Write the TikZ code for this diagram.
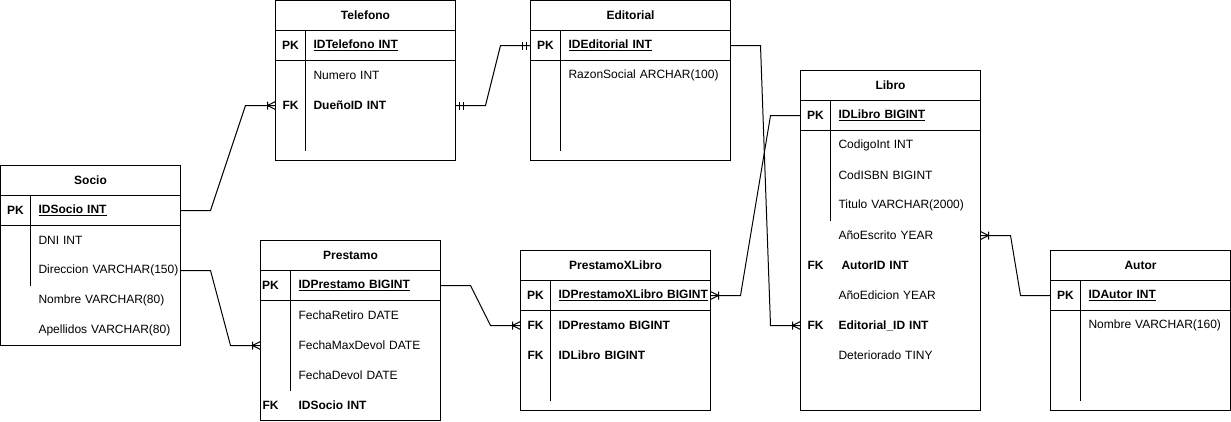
\documentclass[tikz,border=0pt]{standalone}
\usepackage{fontspec}
\setmainfont{Liberation Sans}
\usetikzlibrary{positioning, calc}
\tikzstyle{entity} = [rectangle, draw=black, line width=1pt, inner sep=0pt, outer sep=0pt]
\tikzstyle{title} = [rectangle, draw=black, line width=1pt, minimum height=30pt, inner sep=0pt, outer sep=0pt, font=\fontsize{12}{14}\selectfont\bfseries]
\tikzstyle{attr} = [rectangle, text width=200pt, minimum height=30pt, inner sep=0pt, outer sep=0pt, align=left, font=\fontsize{12}{14}\selectfont]
\tikzstyle{key} = [rectangle, minimum width=30pt, minimum height=30pt, inner sep=0pt, outer sep=0pt, font=\fontsize{12}{14}\selectfont\bfseries]
\tikzstyle{rel} = [line width=1pt]
\tikzset{
  manyend/.pic={\draw[rel] (0,-4) -- (8,0) -- (0,4) (8,-4) -- (8,4);},
  oneend/.pic={\draw[rel] (4,-4) -- (4,4) (8,-4) -- (8,4);}
}
\begin{document}
\begin{tikzpicture}[x=1pt, y=-1pt]
    \useasboundingbox (-0.5,-0.5) rectangle (1230.5,420.5);

    % Socio
    \node (socio) [entity, minimum width=180pt, minimum height=180pt] at (90,255) {};
    \node (socioT) [title, minimum width=180pt, below=0pt of socio.north] {Socio};
    \node (socio1) [attr, below right=0pt and 38pt of socioT.south west] {\textbf{\underline{IDSocio INT}}};
    \node (socio2) [attr, below=0pt of socio1] {DNI INT};
    \node (socio3) [attr, below=0pt of socio2] {Direccion VARCHAR(150)};
    \node (socio4) [attr, below=0pt of socio3] {Nombre VARCHAR(80)};
    \node (socio5) [attr, below=0pt of socio4] {Apellidos VARCHAR(80)};
    \node (socioK1) [key, left=8pt of socio1] {PK};
    \draw[rel] (socio.west |- socio1.south) -- (socio.east |- socio1.south);
    \draw[rel] (socioT.south west) ++(30,0) -- ++(0,90);

    % Telefono
    \node (telefono) [entity, minimum width=180pt, minimum height=160pt] at (365,80) {};
    \node (telefonoT) [title, minimum width=180pt, below=0pt of telefono.north] {Telefono};
    \node (tel1) [attr, below right=0pt and 38pt of telefonoT.south west] {\textbf{\underline{IDTelefono INT}}};
    \node (tel2) [attr, below=0pt of tel1] {Numero INT};
    \node (tel3) [attr, below=0pt of tel2] {\textbf{DueñoID INT}};
    \node (telK1) [key, left=8pt of tel1] {PK};
    \node (telK3) [key, left=8pt of tel3] {FK};
    \draw[rel] (telefono.west |- tel1.south) -- (telefono.east |- tel1.south);
    \draw[rel] (telefonoT.south west) ++(30,0) -- ++(0,120);

    % Editorial
    \node (editorial) [entity, minimum width=200pt, minimum height=160pt] at (630,80) {};
    \node (editorialT) [title, minimum width=200pt, below=0pt of editorial.north] {Editorial};
    \node (edit1) [attr, below right=0pt and 38pt of editorialT.south west] {\textbf{\underline{IDEditorial INT}}};
    \node (edit2) [attr, below=0pt of edit1] {RazonSocial ARCHAR(100)};
    \node (editK1) [key, left=8pt of edit1] {PK};
    \draw[rel] (editorial.west |- edit1.south) -- (editorial.east |- edit1.south);
    \draw[rel] (editorialT.south west) ++(30,0) -- ++(0,120);

    % Prestamo
    \node (prestamo) [entity, minimum width=180pt, minimum height=180pt] at (350,330) {};
    \node (prestamoT) [title, minimum width=180pt, below=0pt of prestamo.north] {Prestamo};
    \node (pres1) [attr, below right=0pt and 38pt of prestamoT.south west] {\textbf{\underline{IDPrestamo BIGINT}}};
    \node (pres2) [attr, below=0pt of pres1] {FechaRetiro DATE};
    \node (pres3) [attr, below=0pt of pres2] {FechaMaxDevol DATE};
    \node (pres4) [attr, below=0pt of pres3] {FechaDevol DATE};
    \node (pres5) [attr, below=0pt of pres4] {\textbf{IDSocio INT}};
    \node (presK1) [key, left=13pt of pres1] {PK};
    \node (presK5) [key, left=13pt of pres5] {FK};
    \draw[rel] (prestamo.west |- pres1.south) -- (prestamo.east |- pres1.south);
    \draw[rel] (prestamoT.south west) ++(30,0) -- ++(0,120);

    % PrestamoXLibro
    \node (pxl) [entity, minimum width=190pt, minimum height=160pt] at (615,330) {};
    \node (pxlT) [title, minimum width=190pt, below=0pt of pxl.north] {PrestamoXLibro};
    \node (pxl1) [attr, below right=0pt and 38pt of pxlT.south west] {\textbf{\underline{IDPrestamoXLibro BIGINT}}};
    \node (pxl2) [attr, below=0pt of pxl1] {\textbf{IDPrestamo BIGINT}};
    \node (pxl3) [attr, below=0pt of pxl2] {\textbf{IDLibro BIGINT}};
    \node (pxlK1) [key, left=8pt of pxl1] {PK};
    \node (pxlK2) [key, left=8pt of pxl2] {FK};
    \node (pxlK3) [key, left=8pt of pxl3] {FK};
    \draw[rel] (pxl.west |- pxl1.south) -- (pxl.east |- pxl1.south);
    \draw[rel] (pxlT.south west) ++(30,0) -- ++(0,120);

    % Libro
    \node (libro) [entity, minimum width=180pt, minimum height=340pt] at (890,240) {};
    \node (libroT) [title, minimum width=180pt, below=0pt of libro.north] {Libro};
    \node (libro1) [attr, below right=0pt and 38pt of libroT.south west] {\textbf{\underline{IDLibro BIGINT}}};
    \node (libro2) [attr, below=0pt of libro1] {CodigoInt INT};
    \node (libro3) [attr, below=0pt of libro2] {CodISBN BIGINT};
    \node (libro4) [attr, below=0pt of libro3] {Titulo VARCHAR(2000)};
    \node (libro5) [attr, below=0pt of libro4] {AñoEscrito YEAR};
    \node (libro6) [attr, below=0pt of libro5] {\hspace*{3pt}\textbf{AutorID INT}};
    \node (libro7) [attr, below=0pt of libro6] {AñoEdicion YEAR};
    \node (libro8) [attr, below=0pt of libro7] {\textbf{Editorial\_ID INT}};
    \node (libro9) [attr, below=0pt of libro8] {Deteriorado TINY};
    \node (libroK1) [key, left=8pt of libro1] {PK};
    \node (libroK6) [key, left=8pt of libro6] {FK};
    \node (libroK8) [key, left=8pt of libro8] {FK};
    \draw[rel] (libro.west |- libro1.south) -- (libro.east |- libro1.south);
    \draw[rel] (libroT.south west) ++(30,0) -- ++(0,120);

    % Autor
    \node (autor) [entity, minimum width=180pt, minimum height=160pt] at (1140,330) {};
    \node (autorT) [title, minimum width=180pt, below=0pt of autor.north] {Autor};
    \node (autor1) [attr, below right=0pt and 38pt of autorT.south west] {\textbf{\underline{IDAutor INT}}};
    \node (autor2) [attr, below=0pt of autor1] {Nombre VARCHAR(160)};
    \node (autorK1) [key, left=8pt of autor1] {PK};
    \draw[rel] (autor.west |- autor1.south) -- (autor.east |- autor1.south);
    \draw[rel] (autorT.south west) ++(30,0) -- ++(0,120);

    % Relations
    \draw[rel] (socio.east |- socio1) -- ++(30,0) -- ($(telefono.west |- tel3)+(-30,0)$) -- (telefono.west |- tel3);
    \pic[xscale=-1] at (telefono.west |- tel3) {manyend};

    \draw[rel] (telefono.east |- tel3) -- ++(30,0) -- ($(editorial.west |- edit1)+(-30,0)$) -- (editorial.west |- edit1);
    \pic at (telefono.east |- tel3) {oneend};
    \pic[xscale=-1] at (editorial.west |- edit1) {oneend};

    \draw[rel] (socio.east |- socio3) -- ++(30,0) -- ($(prestamo.west |- pres3)+(-30,0)$) -- (prestamo.west |- pres3);
    \pic[xscale=-1] at (prestamo.west |- pres3) {manyend};

    \draw[rel] (prestamo.east |- pres1) -- ++(30,0) -- ($(pxl.west |- pxl2)+(-30,0)$) -- (pxl.west |- pxl2);
    \pic[xscale=-1] at (pxl.west |- pxl2) {manyend};

    \draw[rel] (pxl.east |- pxl1) -- ++(30,0) -- ($(libro.west |- libro1)+(-30,0)$) -- (libro.west |- libro1);
    \pic at (pxl.east |- pxl1) {manyend};

    \draw[rel] (editorial.east |- edit1) -- ++(30,0) -- ($(libro.west |- libro8)+(-30,0)$) -- (libro.west |- libro8);
    \pic[xscale=-1] at (libro.west |- libro8) {manyend};

    \draw[rel] (libro.east |- libro5) -- ++(30,0) -- ($(autor.west |- autor1)+(-30,0)$) -- (autor.west |- autor1);
    \pic at (libro.east |- libro5) {manyend};
\end{tikzpicture}
\end{document}
